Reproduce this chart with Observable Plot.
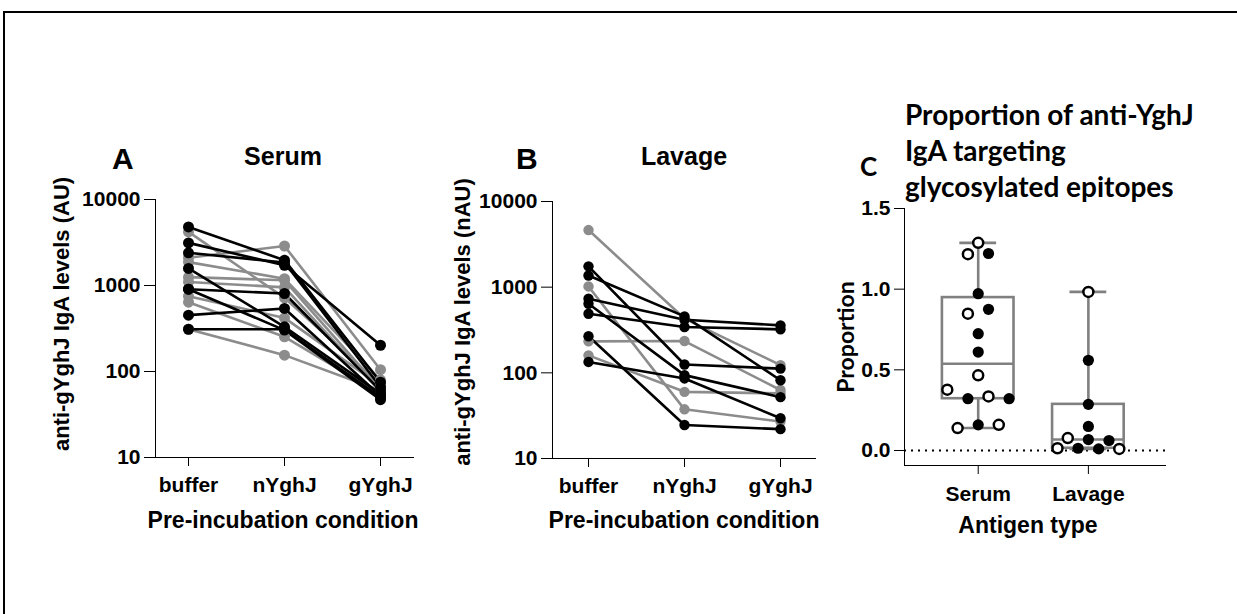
<!DOCTYPE html>
<html>
<head>
<meta charset="utf-8">
<script src="https://cdn.jsdelivr.net/npm/d3@7"></script>
<script src="https://cdn.jsdelivr.net/npm/@observablehq/plot@0.6"></script>
<style>
  html, body { margin: 0; padding: 0; background: #fff; }
  body { width: 1237px; height: 614px; position: relative; overflow: hidden; font-family: "Liberation Sans", Arial, sans-serif; color: #000; }
  #border { position: absolute; left: 3px; top: 11px; width: 1400px; height: 800px; border-left: 2px solid #000; border-top: 2px solid #000; }
  .t { position: absolute; white-space: nowrap; line-height: 1; font-weight: bold; }
  .arial { font-family: "Liberation Sans", Arial, sans-serif; }
  .cal { font-family: Lato, "Open Sans", sans-serif; }
  .ctr { transform: translateX(-50%); }
  .rot { transform: translate(-50%, -50%) rotate(-90deg); }
  svg.panel { position: absolute; }
</style>
</head>
<body>
<div id="border"></div>
<div class="t arial" style="left:112px;top:144px;font-size:30px;">A</div>
<div class="t arial ctr" style="left:283px;top:144px;font-size:25px;">Serum</div>
<div class="t arial" style="left:516px;top:144px;font-size:30px;">B</div>
<div class="t arial ctr" style="left:684px;top:144px;font-size:25px;">Lavage</div>
<div class="t cal" style="left:860px;top:153px;font-size:26px;">C</div>
<div class="t cal" style="left:905px;top:96px;font-size:28px;line-height:36px;">Proportion of anti-YghJ<br>IgA targeting<br>glycosylated epitopes</div>
<div class="t arial rot" style="left:62px;top:314px;font-size:22px;">anti-gYghJ IgA levels (AU)</div>
<div class="t arial rot" style="left:463px;top:322px;font-size:22px;">anti-gYghJ IgA levels (nAU)</div>
<div class="t arial ctr" style="left:283px;top:509px;font-size:23px;">Pre-incubation condition</div>
<div class="t arial ctr" style="left:684px;top:509px;font-size:23px;">Pre-incubation condition</div>
<div class="t cal rot" style="left:845px;top:337px;font-size:23px;">Proportion</div>
<div class="t arial ctr" style="left:1028px;top:514px;font-size:23px;">Antigen type</div>
<script>
// ---------- data ----------
const conditions = ["buffer", "nYghJ", "gYghJ"];
const levelTicks = [10, 100, 1000, 10000];

// Panel A – Serum (one entry per donor)
const serumShade  = ["gray","gray","gray","gray","gray","gray","gray","gray","black","black","black","black","black","black","black","black"];
const serumBuffer = [4200, 2100, 1870, 1250, 1100, 750, 640, 310, 4800, 3130, 2400, 1580, 905, 905, 452, 310];
const serumNYghJ  = [720, 2880, 1200, 1150, 950, 420, 253, 155, 1970, 1720, 1850, 331, 807, 303, 541, 310];
const serumGYghJ  = [70, 105, 80, 62, 58, 68, 55, 60, 75, 202, 66, 55, 60, 47, 52, 50];

// Panel B – Lavage (one entry per donor)
const lavageShade  = ["gray","gray","gray","gray","black","black","black","black","black","black","black"];
const lavageBuffer = [4640, 1020, 233, 160, 1750, 1370, 732, 640, 490, 267, 134];
const lavageNYghJ  = [430, 37.5, 235, 60, 125, 456, 417, 94, 343, 24.6, 86];
const lavageGYghJ  = [123, 27, 63, 57.5, 112, 82, 358, 52, 322, 22, 29.5];

// Panel C – proportion targeting glycosylated epitopes
const antigenTypes = ["Serum", "Lavage"];
const propTicks = [0, 0.5, 1.0, 1.5];
const serumProportion  = [1.287, 1.217, 1.221, 0.972, 0.848, 0.875, 0.724, 0.610, 0.466, 0.377, 0.321, 0.335, 0.321, 0.139, 0.159, 0.159];
const serumOpen        = [true, true, false, false, true, false, false, false, true, true, false, true, false, true, false, true];
const lavageProportion = [0.983, 0.559, 0.286, 0.149, 0.077, 0.068, 0.062, 0.014, 0.014, 0.010, 0.010];
const lavageOpen       = [true, false, false, false, true, false, false, true, false, false, true];

// ---------- styling ----------
const shadeColor = {gray: "#8c8c8c", black: "#000000"};
const boxGray = "#808080";
const axisStyle = {fontFamily: "'Liberation Sans', Arial, sans-serif", fontSize: "21px", fontWeight: "bold", color: "#000", background: "transparent", overflow: "visible"};

function toRows(shades, b, n, g) {
  const rows = [];
  shades.forEach((s, i) => {
    [b, n, g].forEach((arr, j) => rows.push({subject: i, shade: s, color: shadeColor[s], condition: conditions[j], value: arr[i]}));
  });
  return rows;
}

function pairedPlot(rows, geo) {
  const svg = Plot.plot({
    width: geo.width, height: geo.height,
    marginLeft: geo.ml, marginRight: geo.mr, marginTop: geo.mt, marginBottom: geo.mb,
    style: axisStyle,
    x: {type: "point", domain: conditions, padding: geo.pad, line: true, tickSize: 9, tickPadding: 11, label: null},
    y: {type: "log", domain: [10, 10000], ticks: levelTicks, tickFormat: d => String(d), line: true, tickSize: 11, tickPadding: 4, label: null},
    color: {type: "identity"},
    marks: [
      Plot.line(rows, {x: "condition", y: "value", z: "subject", stroke: "color", strokeWidth: 2.6}),
      Plot.dot(rows.filter(d => d.shade === "gray"), {x: "condition", y: "value", fill: "color", r: geo.r}),
      Plot.dot(rows.filter(d => d.shade === "black"), {x: "condition", y: "value", fill: "color", r: geo.r})
    ]
  });
  svg.classList.add("panel");
  svg.style.left = geo.left + "px";
  svg.style.top = geo.top + "px";
  document.body.appendChild(svg);
}

pairedPlot(toRows(serumShade, serumBuffer, serumNYghJ, serumGYghJ),
  {left: 0, top: 100, width: 430, height: 440, ml: 155, mr: 17, mt: 99, mb: 83, pad: 0.337, r: 5.5});
pairedPlot(toRows(lavageShade, lavageBuffer, lavageNYghJ, lavageGYghJ),
  {left: 440, top: 100, width: 400, height: 440, ml: 112, mr: 25, mt: 101, mb: 82, pad: 0.363, r: 5.2});

// ---------- panel C ----------
const pxPerX = 110.2;              // horizontal pixels per group step
const spacing = 20.6 / pxPerX;      // horizontal spacing of points sharing a row
const rowThreshold = 0.045;         // y gap that starts a new row

function swarm(values, open, gi) {
  const order = values.map((v, i) => i).sort((a, b) => values[b] - values[a]);
  const rows = []; let cur = [];
  order.forEach((i, k) => {
    if (cur.length && values[order[k - 1]] - values[i] > rowThreshold) { rows.push(cur); cur = []; }
    cur.push(i);
  });
  if (cur.length) rows.push(cur);
  const off = new Array(values.length);
  rows.forEach(r => { r.sort((a, b) => a - b); r.forEach((i, k) => off[i] = (k - (r.length - 1) / 2) * spacing); });
  return values.map((v, i) => ({x: gi + off[i], value: v, open: open[i]}));
}

function quantile6(sorted, p) {
  const h = (sorted.length + 1) * p - 1;
  const lo = Math.max(0, Math.min(sorted.length - 1, Math.floor(h)));
  const hi = Math.max(0, Math.min(sorted.length - 1, Math.ceil(h)));
  return sorted[lo] + (h - lo) * (sorted[hi] - sorted[lo]);
}
function stats(values, gi) {
  const s = values.slice().sort((a, b) => a - b);
  return {i: gi, min: s[0], q1: quantile6(s, 0.25), med: quantile6(s, 0.5), q3: quantile6(s, 0.75), max: s[s.length - 1]};
}

const pts = [...swarm(serumProportion, serumOpen, 0), ...swarm(lavageProportion, lavageOpen, 1)];
const boxes = [stats(serumProportion, 0), stats(lavageProportion, 1)];
const halfBox = 0.325, halfCap = 0.167;

const svgC = Plot.plot({
  width: 387, height: 440,
  marginLeft: 54, marginRight: 72, marginTop: 108, marginBottom: 75,
  style: axisStyle,
  x: {type: "linear", domain: [-0.669, 1.70], ticks: [0, 1], tickFormat: d => antigenTypes[d], line: true, tickSize: 9, tickPadding: 12, label: null},
  y: {domain: [-0.093, 1.5], ticks: propTicks, tickFormat: d3.format(".1f"), line: true, tickSize: 10, tickPadding: 4, label: null},
  marks: [
    Plot.ruleY([0], {stroke: "#000", strokeWidth: 2, strokeDasharray: "2,5"}),
    Plot.ruleX(boxes, {x: "i", y1: "q3", y2: "max", stroke: boxGray, strokeWidth: 2.6}),
    Plot.ruleX(boxes, {x: "i", y1: "min", y2: "q1", stroke: boxGray, strokeWidth: 2.6}),
    Plot.ruleY(boxes, {y: "max", x1: d => d.i - halfCap, x2: d => d.i + halfCap, stroke: boxGray, strokeWidth: 2.6}),
    Plot.ruleY(boxes, {y: "min", x1: d => d.i - halfCap, x2: d => d.i + halfCap, stroke: boxGray, strokeWidth: 2.6}),
    Plot.rect(boxes, {x1: d => d.i - halfBox, x2: d => d.i + halfBox, y1: "q1", y2: "q3", fill: "none", stroke: boxGray, strokeWidth: 2.6}),
    Plot.ruleY(boxes, {y: "med", x1: d => d.i - halfBox, x2: d => d.i + halfBox, stroke: boxGray, strokeWidth: 2.6}),
    Plot.dot(pts.filter(d => d.open), {x: "x", y: "value", r: 5, fill: "#fff", stroke: "#000", strokeWidth: 2.5}),
    Plot.dot(pts.filter(d => !d.open), {x: "x", y: "value", r: 5.6, fill: "#000", stroke: "none"})
  ]
});
svgC.classList.add("panel");
svgC.style.left = "850px";
svgC.style.top = "100px";
document.body.appendChild(svgC);
</script>
</body>
</html>
